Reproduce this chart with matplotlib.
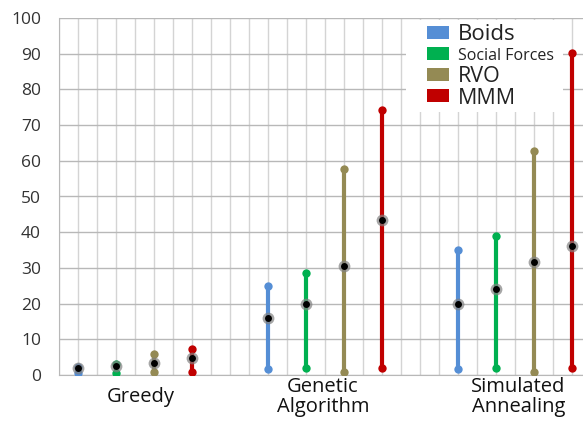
import matplotlib
matplotlib.use("Agg")
import matplotlib.pyplot as plt
from matplotlib.patches import Rectangle
from matplotlib.transforms import blended_transform_factory

plt.rcParams['font.family'] = ['Open Sans', 'DejaVu Sans']

categories = ["Greedy", "Genetic\nAlgorithm", "Simulated\nAnnealing"]
series = ["Boids", "Social Forces", "RVO", "MMM"]
colors = ["#558ED5", "#00B050", "#948A54", "#C00000"]

# per series: values for [Greedy, Genetic Algorithm, Simulated Annealing]
boids_min = [0.7, 1.7, 1.6]
boids_mean = [2.0, 16.0, 20.0]
boids_max = [2.3, 25.0, 35.0]

social_min = [0.7, 1.9, 1.9]
social_mean = [2.6, 20.0, 24.2]
social_max = [3.0, 28.7, 38.9]

rvo_min = [0.9, 0.9, 0.8]
rvo_mean = [3.5, 30.6, 31.6]
rvo_max = [5.8, 57.8, 62.7]

mmm_min = [0.9, 1.9, 2.0]
mmm_mean = [4.7, 43.5, 36.1]
mmm_max = [7.4, 74.2, 90.1]

mins = [boids_min, social_min, rvo_min, mmm_min]
means = [boids_mean, social_mean, rvo_mean, mmm_mean]
maxs = [boids_max, social_max, rvo_max, mmm_max]

yticks = [0, 10, 20, 30, 40, 50, 60, 70, 80, 90, 100]
legend_sizes = [16, 11.5, 15.5, 15.5]

W, H = 583, 423
fig = plt.figure(figsize=(W / 100, H / 100), dpi=100)
ax = fig.add_axes([59 / W, (H - 375) / H, (W - 59) / W, 357 / H])

ax.set_xlim(0, 27.6)
ax.set_ylim(0, 100)

# grid
for xg in range(0, 28):
    ax.axvline(xg, color="#D4D4D4", lw=1.0, zorder=0)
for yv in yticks:
    ax.axhline(yv, color="#B8B8B8", lw=1.0, zorder=0.5)

for s in range(4):
    for g in range(3):
        x = 1 + 10 * g + 2 * s
        ax.plot([x, x], [mins[s][g], maxs[s][g]], color=colors[s], lw=3.0,
                solid_capstyle='butt', zorder=2)
        ax.plot([x, x], [mins[s][g], maxs[s][g]], 'o', color=colors[s],
                ms=6.0, mec='none', zorder=3)
        ax.plot([x], [means[s][g]], 'o', color='#808080', alpha=0.7,
                ms=8.5, mec='none', zorder=4)
        ax.plot([x], [means[s][g]], 'o', color='black', ms=5.0, mec='none', zorder=5)

ax.set_yticks(yticks)
ax.set_yticklabels([str(v) for v in yticks], fontsize=12.5, color="#333333")
ax.tick_params(axis='y', length=0, pad=13)
ax.set_xticks([])
for sp in ax.spines.values():
    sp.set_visible(False)
ax.spines['left'].set_visible(True)
ax.spines['left'].set_color("#B8B8B8")
ax.spines['bottom'].set_visible(True)
ax.spines['bottom'].set_color("#B8B8B8")

# category labels
label_x = [4.3, 13.9, 24.2]
trans = blended_transform_factory(ax.transData, fig.transFigure)
for lx, lab in zip(label_x, categories):
    ax.text(lx, (H - 397) / H, lab, transform=trans, ha='center', va='center',
            fontsize=14.5, color="#111111", linespacing=0.98, clip_on=False)

# legend (manual, pixel coordinates in figure)
def fx(px):
    return px / W

def fy(py):
    return (H - py) / H

fig.patches.append(Rectangle((fx(406), fy(112)), (563 - 406) / W, (112 - 20) / H,
                             transform=fig.transFigure, facecolor='white',
                             edgecolor='none', zorder=10))
row_y = [33, 54, 75, 96]
text_y = [34, 56, 76, 98]
for i, name in enumerate(series):
    fig.patches.append(Rectangle((fx(427), fy(row_y[i] + 6.5)), 22 / W, 13 / H,
                                 transform=fig.transFigure, facecolor=colors[i],
                                 edgecolor='none', zorder=11))
    fig.text(fx(458), fy(text_y[i]), name, fontsize=legend_sizes[i],
             ha='left', va='center', color="#222222", zorder=12)

fig.savefig("out.png", dpi=100)
